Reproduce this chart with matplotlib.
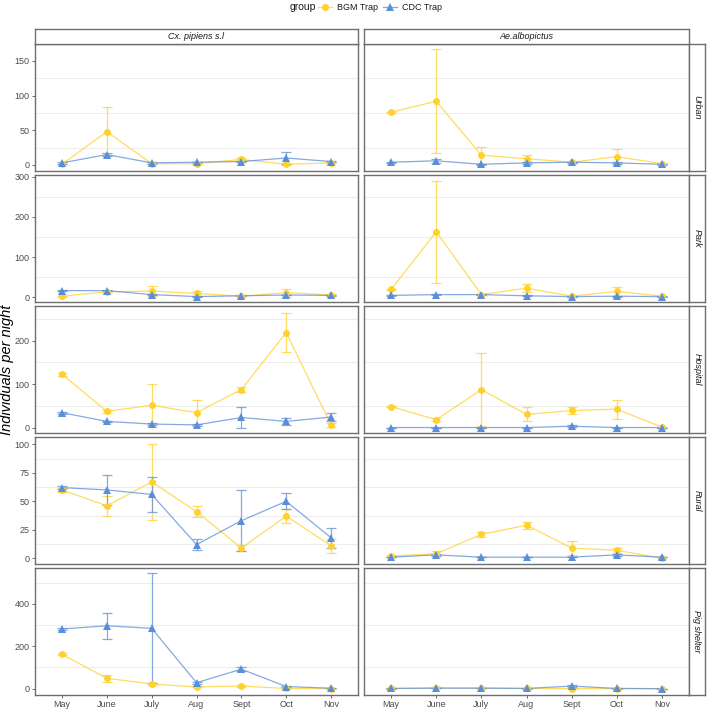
import numpy as np
import matplotlib
matplotlib.use("Agg")
import matplotlib.pyplot as plt

plt.rcParams['font.family'] = ['Liberation Sans', 'DejaVu Sans']

# categories
months = ["May", "June", "July", "Aug", "Sept", "Oct", "Nov"]
sites = ["Urban", "Park", "Hospital", "Rural", "Pig shelter"]
species = ["Cx. pipiens s.l", "Ae.albopictus"]
groups = ["BGM Trap", "CDC Trap"]

# mean individuals per night (rows = sites, cols = months)
bgm_cx = [[1, 48, 2, 2, 8, 1, 3],
          [2, 13, 15, 9, 2, 11, 5],
          [123, 38, 52, 35, 88, 218, 7],
          [60, 46, 67, 41, 9, 37, 11],
          [162, 49, 22, 8, 12, 1, 0]]
bgm_cx_se = [[0, 35, 1, 1, 2, 1, 1],
             [1, 3, 12, 6, 1, 10, 2],
             [3, 4, 49, 29, 5, 44, 5],
             [2, 9, 33, 5, 3, 6, 6],
             [5, 17, 4, 2, 3, 1, 0]]
cdc_cx = [[3, 15, 3, 4, 5, 10, 5],
          [16, 16, 6, 1, 3, 5, 4],
          [35, 15, 9, 7, 24, 15, 25],
          [62, 60, 56, 12, 33, 50, 18],
          [282, 297, 285, 28, 92, 10, 2]]
cdc_cx_se = [[1, 2, 1, 1, 1, 8, 1],
             [1, 2, 2, 1, 1, 1, 1],
             [2, 2, 2, 2, 23, 8, 10],
             [1, 13, 15, 5, 27, 7, 9],
             [5, 62, 260, 5, 10, 3, 1]]
bgm_ae = [[76, 92, 14, 9, 4, 12, 2],
          [19, 163, 6, 22, 2, 14, 2],
          [49, 19, 88, 31, 40, 43, 2],
          [2, 4, 21, 29, 9, 7, 0],
          [1, 4, 4, 1, 0, 0, 0]]
bgm_ae_se = [[1, 75, 12, 5, 1, 11, 1],
             [1, 127, 1, 10, 1, 12, 1],
             [2, 3, 83, 16, 7, 22, 1],
             [1, 2, 2, 3, 6, 2, 1],
             [1, 2, 1, 1, 2, 1, 0]]
cdc_ae = [[4, 6, 1, 3, 4, 3, 1],
          [4, 6, 6, 3, 1, 2, 1],
          [1, 1, 1, 1, 4, 1, 1],
          [1, 3, 1, 1, 1, 3, 1],
          [1, 2, 2, 1, 12, 1, 0]]
cdc_ae_se = [[1, 3, 1, 1, 1, 1, 1],
             [1, 1, 1, 1, 1, 1, 1],
             [0, 0, 0, 0, 2, 0, 0],
             [0, 1, 0, 0, 0, 1, 0],
             [1, 1, 1, 1, 6, 1, 0]]

# per-row y scale (free per row like facet_grid)
row_ticks = [[0, 50, 100, 150], [0, 100, 200, 300], [0, 100, 200],
             [0, 25, 50, 75, 100], [0, 200, 400]]
row_lims = [(-8.7, 174.5), (-12.5, 305), (-11.5, 279), (-5, 106.4), (-30, 570)]

yellow = "#FFD12A"
blue = "#5B8ED8"
border = "#6E6E6E"
tickc = "#4D4D4D"
styles = [(yellow, 'o', 5.0), (blue, '^', 5.6)]

W, H = 708, 711
fig = plt.figure(figsize=(W / 100, H / 100), dpi=100)

def px_axes(x0, y0, x1, y1):
    return fig.add_axes([x0 / W, 1 - y1 / H, (x1 - x0) / W, (y1 - y0) / H])

def strip(x0, y0, x1, y1, label, rot):
    sx = px_axes(x0, y0, x1, y1)
    sx.set_xticks([])
    sx.set_yticks([])
    for sp in sx.spines.values():
        sp.set_color(border)
        sp.set_linewidth(1.0)
    sx.text(0.5, 0.5, label, ha='center', va='center', fontsize=6.5,
            style='italic', rotation=rot, color="#1A1A1A")

col_x = [(35, 358), (364, 689)]
row_h = 127.0
row_y = [44 + i * (row_h + 4) for i in range(5)]

data = [(bgm_cx, bgm_cx_se, cdc_cx, cdc_cx_se),
        (bgm_ae, bgm_ae_se, cdc_ae, cdc_ae_se)]
xs = np.arange(1, 8)

for r in range(5):
    y0 = row_y[r]
    y1 = y0 + row_h
    for c in range(2):
        x0, x1 = col_x[c]
        ax = px_axes(x0, y0, x1, y1)
        bm, bs, cm, cs = data[c]
        for (mean, se), (col, mk, ms) in zip([(bm, bs), (cm, cs)], styles):
            m = np.array(mean[r], dtype=float)
            e = np.array(se[r], dtype=float)
            ax.errorbar(xs, m, yerr=e, fmt='none', ecolor=col, alpha=0.75,
                        elinewidth=0.9, capsize=3.3, capthick=0.9, zorder=2)
            ax.plot(xs, m, color=col, lw=0.9, alpha=0.75, zorder=3)
            ax.plot(xs, m, linestyle='none', marker=mk, ms=ms, color=col,
                    markeredgewidth=0, zorder=4)
        ticks = row_ticks[r]
        ax.set_ylim(*row_lims[r])
        ax.set_xlim(0.4, 7.6)
        step = ticks[1] - ticks[0]
        for g in [t + step / 2 for t in ticks]:
            if g < row_lims[r][1]:
                ax.axhline(g, color="#EDEDED", lw=0.8, zorder=0)
        ax.set_yticks(ticks)
        ax.set_xticks(xs)
        if c == 0:
            ax.set_yticklabels([str(t) for t in ticks])
            ax.tick_params(axis='y', length=2.5, width=0.6, color=tickc,
                           labelsize=6.5, labelcolor=tickc, pad=1.5)
        else:
            ax.tick_params(axis='y', length=0, labelleft=False)
        if r == 4:
            ax.set_xticklabels(months)
            ax.tick_params(axis='x', length=2.5, width=0.6, color=tickc,
                           labelsize=6.5, labelcolor=tickc, pad=1)
        else:
            ax.tick_params(axis='x', length=0, labelbottom=False)
        for sp in ax.spines.values():
            sp.set_color(border)
            sp.set_linewidth(1.0)

        if r == 0:
            strip(x0, 29, x1, 44, species[c], 0)
        if c == 1:
            strip(689, y0, 705, y1, sites[r], -90)

fig.text(7 / W, 1 - 370 / H, "Individuals per night", rotation=90,
         ha='center', va='center', fontsize=10.5, style='italic')

# legend on top, ggplot style: title left of the keys
lax = fig.add_axes([0, 0, 1, 1], facecolor='none')
lax.set_xlim(0, W)
lax.set_ylim(H, 0)
lax.axis('off')
ly = 7
lax.text(290, ly, "group", ha='left', va='center', fontsize=7.5, color="#1A1A1A")
for (col, mk, ms), name, kx in zip(styles, groups, [325, 390]):
    lax.plot([kx - 7, kx + 7], [ly, ly], color=col, lw=0.9, alpha=0.75)
    lax.plot([kx], [ly], marker=mk, ms=ms, color=col, markeredgewidth=0)
    lax.text(kx + 12, ly, name, ha='left', va='center', fontsize=6.5, color="#1A1A1A")

fig.savefig("out.png", dpi=100, facecolor="white")
